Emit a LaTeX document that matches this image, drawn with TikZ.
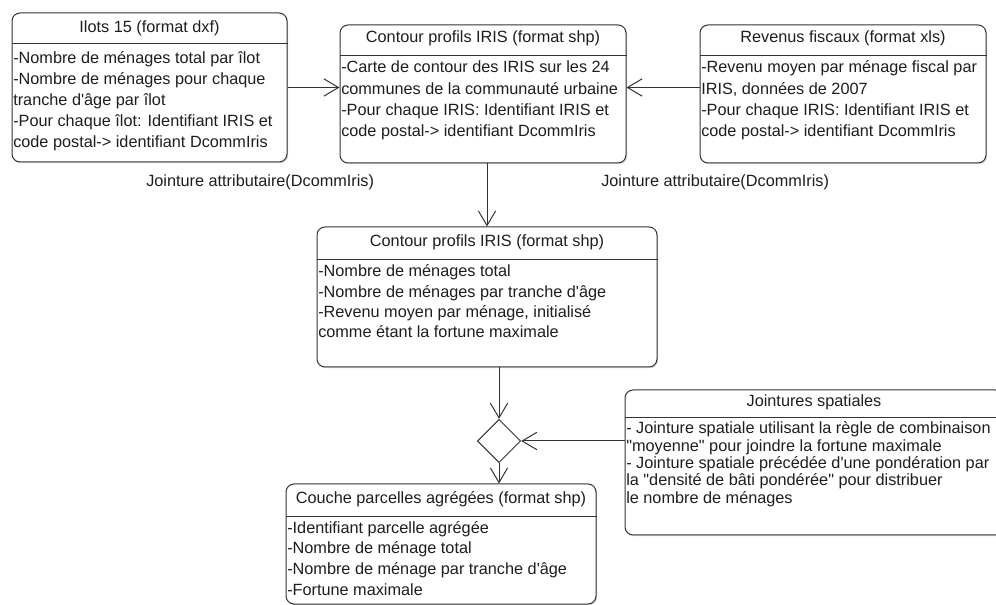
\documentclass[tikz,border=0pt]{standalone}
\usepackage{fontspec}
\setmainfont{Liberation Sans}
\usetikzlibrary{arrows.meta,shapes.geometric,fit,shadows}
\definecolor{ln}{HTML}{333333}
\definecolor{tx}{HTML}{1E1E1E}
\newcommand{\bodytxt}[2]{{\fontsize{12.2pt}{#1}\selectfont\begin{tabular}[t]{@{}l@{}}#2\end{tabular}}}
\newcommand{\q}{\textquotesingle}
\newcommand{\dq}{\textquotedbl}
\begin{document}
\begin{tikzpicture}[x=0.75pt,y=-0.75pt,
  box/.style={draw=ln, line width=0.75pt, rounded corners=6pt, fill=white, inner sep=0pt,
    drop shadow={shadow xshift=0.9pt, shadow yshift=-0.9pt, opacity=0.3}},
  sepline/.style={draw=ln, line width=0.75pt},
  ttl/.style={anchor=base, inner sep=0pt, text=tx, font=\fontsize{12.2pt}{14pt}\selectfont},
  bdy/.style={anchor=base west, inner sep=0pt, text=tx},
  arr/.style={draw=ln, line width=0.75pt, -{Straight Barb[length=11pt,width=13pt]}},
  lbl/.style={anchor=base west, inner sep=0pt, text=tx, font=\fontsize{12.2pt}{14pt}\selectfont},
  dia/.style={diamond, draw=ln, line width=0.75pt, fill=white, aspect=1, inner sep=0pt, minimum size=32.5pt}]
\useasboundingbox (0,0) rectangle (996,605);
\fill[white] (0,0) rectangle (996,605);

% boxes
\node[box, fit={(12,13) (287,162)}] (b1) {};
\node[box, fit={(340,25) (626,163)}] (b2) {};
\node[box, fit={(700,25) (986,163)}] (b3) {};
\node[box, fit={(317,227) (657,367)}] (b4) {};
\node[box, fit={(625,390) (1003,535)}] (b5) {};
\node[box, fit={(286,484) (596,604)}] (b6) {};
\node[dia] (d) at (499,441) {};

% separators
\draw[sepline] (b1.west |- 0,44) -- (b1.east |- 0,44);
\draw[sepline] (b2.west |- 0,56) -- (b2.east |- 0,56);
\draw[sepline] (b3.west |- 0,56) -- (b3.east |- 0,56);
\draw[sepline] (b4.west |- 0,260) -- (b4.east |- 0,260);
\draw[sepline] (b5.west |- 0,418) -- (b5.east |- 0,418);
\draw[sepline] (b6.west |- 0,517) -- (b6.east |- 0,517);

% titles
\node[ttl] (t1) at (149.5,33) {Ilots 15 (format dxf)};
\node[ttl] (t2) at (483,43) {Contour profils IRIS (format shp)};
\node[ttl] (t3) at (843,43) {Revenus fiscaux (format xls)};
\node[ttl] (t4) at (487,247) {Contour profils IRIS (format shp)};
\node[ttl] (t5) at (814,407) {Jointures spatiales};
\node[ttl] (t6) at (441,504) {Couche parcelles agrégées (format shp)};

% bodies
\node[bdy] (c1) at (13,64) {\bodytxt{15.75pt}{-Nombre de ménages total par îlot\\
-Nombre de ménages pour chaque\\
tranche d\q âge par îlot\\
-Pour chaque îlot: Identifiant IRIS et\\
code postal-> identifiant DcommIris}};
\node[bdy] (c2) at (341,73) {\bodytxt{16pt}{-Carte de contour des IRIS sur les 24\\
communes de la communauté urbaine\\
-Pour chaque IRIS: Identifiant IRIS et\\
code postal-> identifiant DcommIris}};
\node[bdy] (c3) at (701,73) {\bodytxt{16pt}{-Revenu moyen par ménage fiscal par\\
IRIS, données de 2007\\
-Pour chaque IRIS: Identifiant IRIS et\\
code postal-> identifiant DcommIris}};
\node[bdy] (c4) at (318,277) {\bodytxt{15.2pt}{-Nombre de ménages total\\
-Nombre de ménages par tranche d\q âge\\
-Revenu moyen par ménage, initialisé\\
comme étant la fortune maximale}};
\node[bdy] (c5) at (626,434) {\bodytxt{13pt}{- Jointure spatiale utilisant la règle de combinaison\\
\dq moyenne\dq{} pour joindre la fortune maximale\\
- Jointure spatiale précédée d\q une pondération par\\
la \dq densité de bâti pondérée\dq{} pour distribuer\\
le nombre de ménages}};
\node[bdy] (c6) at (287,533) {\bodytxt{15.75pt}{-Identifiant parcelle agrégée\\
-Nombre de ménage total\\
-Nombre de ménage par tranche d\q âge\\
-Fortune maximale}};

% labels
\node[lbl] (l1) at (146,187) {Jointure attributaire(DcommIris)};
\node[lbl] (l2) at (601,187) {Jointure attributaire(DcommIris)};

% connectors
\draw[arr] (b1.east) -- (b1.east -| b2.west);
\draw[arr] (b3.west |- b1.east) -- (b2.east |- b1.east);
\draw[arr] (b2.south -| b4.north) -- (b4.north);
\draw[arr] (b4.south -| d.north) -- (d.north);
\draw[arr] (d.south) -- (d.south |- b6.north);
\draw[arr] (b5.west |- d.east) -- (d.east);
\end{tikzpicture}
\end{document}
